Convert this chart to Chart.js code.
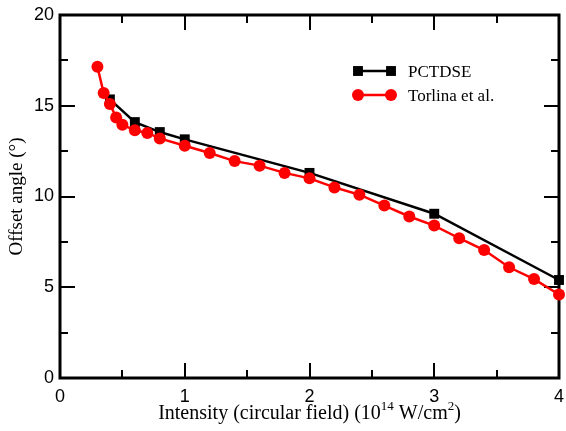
<!DOCTYPE html>
<html><head><meta charset="utf-8">
<script src="https://cdn.jsdelivr.net/npm/chart.js@4"></script>
<style>html,body{margin:0;padding:0;background:#fff}</style>
</head><body>
<canvas id="c" width="566" height="431" style="width:566px;height:431px;display:block"></canvas>
<script>
const xTickLabels = ['0', '1', '2', '3', '4'];
const yTickLabels = ['0', '5', '10', '15', '20'];
const seriesNames = ['PCTDSE', 'Torlina et al.'];
const pctdseX = [0.4, 0.6, 0.8, 1.0, 2.0, 3.0, 4.0];
const pctdseY = [15.35, 14.1, 13.55, 13.15, 11.3, 9.05, 5.4];
const torlinaX = [0.3, 0.35, 0.4, 0.45, 0.5, 0.6, 0.7, 0.8, 1.0, 1.2, 1.4, 1.6, 1.8, 2.0, 2.2, 2.4, 2.6, 2.8, 3.0, 3.2, 3.4, 3.6, 3.8, 4.0];
const torlinaY = [17.15, 15.7, 15.1, 14.35, 13.95, 13.65, 13.5, 13.2, 12.8, 12.4, 11.95, 11.7, 11.3, 11.0, 10.5, 10.1, 9.5, 8.9, 8.4, 7.7, 7.05, 6.1, 5.45, 4.6];

const SANS = '"Liberation Sans", Arial, Helvetica, sans-serif';
const SERIF = '"Liberation Serif", "Times New Roman", serif';

function pts(xs, ys) { return xs.map((x, i) => ({x: x, y: ys[i]})); }

const framePlugin = {
  id: 'frame',
  beforeDatasetsDraw(chart) {
    const {ctx, chartArea: a, scales: {x, y}} = chart;
    ctx.save();
    ctx.strokeStyle = '#000';
    ctx.lineWidth = 2;
    const seg = (x1, y1, x2, y2) => { ctx.beginPath(); ctx.moveTo(x1, y1); ctx.lineTo(x2, y2); ctx.stroke(); };
    for (let i = 0; i <= 8; i++) {
      const v = i * 0.5;
      const px = Math.round(x.getPixelForValue(v));
      const len = (i % 2 === 0) ? 15 : 8;
      seg(px, a.bottom, px, a.bottom - len);
      seg(px, a.top, px, a.top + len);
    }
    for (let i = 0; i <= 8; i++) {
      const v = i * 2.5;
      const py = Math.round(y.getPixelForValue(v));
      const len = (i % 2 === 0) ? 15 : 8;
      seg(a.left, py, a.left + len, py);
      seg(a.right, py, a.right - len, py);
    }
    ctx.lineWidth = 3;
    ctx.strokeRect(a.left, a.top, a.right - a.left, a.bottom - a.top);
    ctx.restore();
  },
  afterDraw(chart) {
    const {ctx, chartArea: a} = chart;
    ctx.save();
    ctx.fillStyle = '#000';
    const parts = [
      ['Intensity (circular field) (10', false],
      ['14', true],
      [' W/cm', false],
      ['2', true],
      [')', false]
    ];
    const big = '20px ' + SERIF, small = '13px ' + SERIF;
    let total = 0;
    parts.forEach(p => { ctx.font = p[1] ? small : big; total += ctx.measureText(p[0]).width; });
    let cx = (a.left + a.right) / 2 - total / 2;
    const base = a.bottom + 41;
    ctx.textBaseline = 'alphabetic';
    ctx.textAlign = 'left';
    parts.forEach(p => {
      ctx.font = p[1] ? small : big;
      ctx.fillText(p[0], cx, p[1] ? base - 9 : base);
      cx += ctx.measureText(p[0]).width;
    });
    ctx.translate(22, (a.top + a.bottom) / 2);
    ctx.rotate(-Math.PI / 2);
    ctx.font = '19px ' + SERIF;
    ctx.textAlign = 'center';
    ctx.fillText('Offset angle (°)', 0, 0);
    ctx.restore();

    ctx.save();
    const rows = [71, 95];
    chart.data.datasets.forEach((ds, i) => {
      const yy = rows[i];
      ctx.strokeStyle = ds.borderColor;
      ctx.lineWidth = ds.borderWidth;
      ctx.beginPath(); ctx.moveTo(358, yy); ctx.lineTo(391, yy); ctx.stroke();
      const opt = {pointStyle: ds.pointStyle, radius: ds.pointRadius, borderWidth: 0, rotation: 0};
      ctx.fillStyle = ds.pointBackgroundColor;
      ctx.strokeStyle = ds.pointBackgroundColor;
      Chart.helpers.drawPoint(ctx, opt, 358, yy);
      Chart.helpers.drawPoint(ctx, opt, 391, yy);
      ctx.fillStyle = '#000';
      ctx.font = '17px ' + SERIF;
      ctx.textAlign = 'left';
      ctx.textBaseline = 'alphabetic';
      ctx.fillText(ds.label, 408, yy + 6);
    });
    ctx.restore();
  }
};

new Chart(document.getElementById('c'), {
  type: 'scatter',
  data: {
    datasets: [
      {
        label: seriesNames[0], data: pts(pctdseX, pctdseY), showLine: true,
        borderColor: '#000', borderWidth: 2.5, pointStyle: 'rect', pointRadius: 7,
        pointBackgroundColor: '#000', pointBorderColor: '#000', pointBorderWidth: 0,
        order: 2, clip: false
      },
      {
        label: seriesNames[1], data: pts(torlinaX, torlinaY), showLine: true,
        borderColor: '#ff0000', borderWidth: 2.5, pointStyle: 'circle', pointRadius: 6,
        pointBackgroundColor: '#ff0000', pointBorderColor: '#ff0000', pointBorderWidth: 0,
        order: 1, clip: false
      }
    ]
  },
  options: {
    responsive: false,
    animation: false,
    layout: {padding: {top: 15, right: 2, left: 0, bottom: 0}},
    plugins: {legend: {display: false}, tooltip: {enabled: false}},
    scales: {
      x: {
        type: 'linear', min: 0, max: 4,
        afterFit: s => { s.height = 53; s.paddingLeft = 0; s.paddingRight = 0; },
        grid: {display: false, drawTicks: false},
        border: {display: false},
        ticks: {stepSize: 1, padding: 8, maxRotation: 0, autoSkip: false, color: '#000',
          font: {family: SANS, size: 18},
          callback: v => xTickLabels[Math.round(v)] ?? ''}
      },
      y: {
        type: 'linear', min: 0, max: 20,
        afterFit: s => { s.width = 60; s.paddingTop = 0; s.paddingBottom = 0; },
        grid: {display: false, drawTicks: false},
        border: {display: false},
        ticks: {stepSize: 5, padding: 6, color: '#000',
          font: {family: SANS, size: 18},
          callback: v => yTickLabels[Math.round(v / 5)] ?? ''}
      }
    }
  },
  plugins: [framePlugin]
});
</script>
</body></html>
